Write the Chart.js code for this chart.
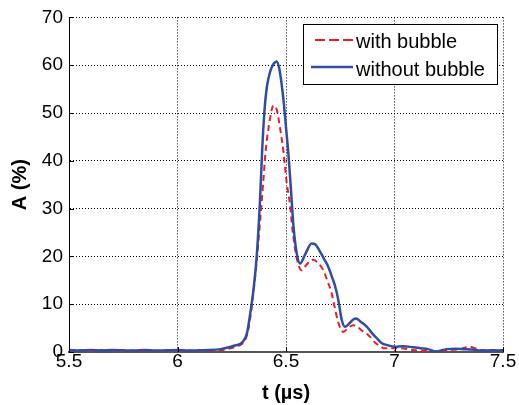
<!DOCTYPE html>
<html>
<head>
<meta charset="utf-8">
<script src="https://cdn.jsdelivr.net/npm/chart.js@4.4.0/dist/chart.umd.min.js"></script>
<style>
  html, body { margin: 0; padding: 0; background: #fff; }
  #wrap { width: 519px; height: 405px; }
</style>
</head>
<body>
<div id="wrap"><canvas id="pulseChart" width="519" height="405"></canvas></div>
<script>
// values, t in microseconds, A in %
var seriesLabels = ['with bubble', 'without bubble'];

var tWith = [5.5, 5.55, 5.6, 5.65, 5.7, 5.75, 5.8, 5.85, 5.9, 5.95, 6.0, 6.05, 6.1, 6.15, 6.2,
  6.23, 6.27, 6.3, 6.32, 6.335, 6.35, 6.365, 6.38, 6.395, 6.405, 6.42, 6.443, 6.458, 6.472,
  6.488, 6.503, 6.518, 6.53, 6.55, 6.572, 6.59, 6.61, 6.626, 6.65, 6.672, 6.69, 6.71, 6.734,
  6.75, 6.764, 6.785, 6.81, 6.83, 6.855, 6.88, 6.91, 6.935, 6.95, 6.98, 7.025, 7.085, 7.15,
  7.2, 7.25, 7.3, 7.348, 7.37, 7.4, 7.45, 7.5];
var aWith = [0.3, 0.4, 0.2, 0.4, 0.3, 0.1, 0.3, 0.2, 0.1, 0.3, 0.2, 0.3, 0.1, 0.3, 0.4,
  0.6, 1.1, 1.8, 3.5, 7, 12.5, 19, 27, 35.5, 41.5, 47, 51.6, 50.6, 47,
  42, 35.5, 31, 25.5, 19.5, 17.1, 18, 19, 19.3, 18.5, 17.1, 15, 12.3, 7.4,
  5, 4.2, 5.0, 5.6, 5.2, 4.3, 3.5, 2.0, 1.2, 0.8, 0.8, 0.8, 0.4, 0.2,
  0.1, 0.4, 0.6, 1.1, 0.8, 0.4, 0.3, 0.4];

var tWithout = [5.5, 5.55, 5.6, 5.65, 5.7, 5.75, 5.8, 5.85, 5.9, 5.95, 6.0, 6.05, 6.1, 6.15, 6.2,
  6.22, 6.26, 6.3, 6.32, 6.335, 6.35, 6.365, 6.38, 6.39, 6.4, 6.412, 6.428, 6.443, 6.457, 6.469,
  6.48, 6.49, 6.5, 6.511, 6.525, 6.535, 6.55, 6.565, 6.59, 6.618, 6.635, 6.657, 6.675, 6.695, 6.715,
  6.728, 6.741, 6.757, 6.772, 6.79, 6.81, 6.823, 6.845, 6.872, 6.895, 6.918, 6.94, 6.97, 7.0,
  7.04, 7.085, 7.12, 7.155, 7.19, 7.24, 7.28, 7.32, 7.36, 7.4, 7.45, 7.5];
var aWithout = [0.4, 0.3, 0.4, 0.3, 0.4, 0.35, 0.3, 0.4, 0.3, 0.35, 0.4, 0.3, 0.35, 0.4, 0.6,
  0.8, 1.3, 2.1, 3.9, 8.0, 13.0, 20.0, 31.5, 42, 50, 55.5, 58.8, 60.3, 60.8, 59.3,
  56, 52, 47, 41.5, 32.5, 26, 20.5, 18.5, 20.6, 22.7, 22.5, 21.0, 19.5, 17.8, 15.3,
  13.5, 10.9, 6.7, 5.3, 5.9, 6.8, 7.0, 6.3, 5.3, 4.0, 2.9, 1.9, 1.4, 1.1,
  1.2, 1.0, 0.8, 0.6, 0.1, 0.6, 0.7, 0.6, 0.5, 0.3, 0.35, 0.3];

var xTicks = [5.5, 6, 6.5, 7, 7.5];
var yTicks = [0, 10, 20, 30, 40, 50, 60, 70];

var redLine = '#ee1d25';
var blueLine = '#2f4ea2';

function pairs(xs, ys) {
  var out = [];
  for (var i = 0; i < xs.length; i++) {
    out.push({x: xs[i], y: ys[i]});
  }
  return out;
}

Chart.defaults.font.family = '"Liberation Sans", Arial, sans-serif';
Chart.defaults.color = '#000';

// matlab style: ticks pointing into the plot
var innerTicks = {
  id: 'innerTicks',
  afterDatasetsDraw: function(chart) {
    var ctx = chart.ctx;
    var area = chart.chartArea;
    var xs = chart.scales.x, ys = chart.scales.y;
    ctx.save();
    ctx.strokeStyle = '#000';
    ctx.lineWidth = 1;
    ctx.beginPath();
    xTicks.forEach(function(v) {
      var px = Math.round(xs.getPixelForValue(v)) + 0.5;
      ctx.moveTo(px, area.bottom);
      ctx.lineTo(px, area.bottom - 5);
    });
    yTicks.forEach(function(v) {
      var py = Math.round(ys.getPixelForValue(v)) + 0.5;
      ctx.moveTo(area.left, py);
      ctx.lineTo(area.left + 5, py);
    });
    ctx.stroke();
    ctx.restore();
  }
};

// legend box in the top right corner
var boxLegend = {
  id: 'boxLegend',
  afterDraw: function(chart) {
    var ctx = chart.ctx;
    var ds = chart.data.datasets;
    ctx.save();
    ctx.fillStyle = '#fff';
    ctx.fillRect(303.5, 24.5, 194, 60);
    ctx.strokeStyle = '#000';
    ctx.lineWidth = 1;
    ctx.strokeRect(303.5, 24.5, 194, 60);

    ctx.lineWidth = 2;
    ctx.strokeStyle = ds[0].borderColor;
    ctx.setLineDash([10, 4]);
    ctx.beginPath();
    ctx.moveTo(315, 40);
    ctx.lineTo(353, 40);
    ctx.stroke();

    ctx.setLineDash([]);
    ctx.lineWidth = 2.5;
    ctx.strokeStyle = ds[1].borderColor;
    ctx.beginPath();
    ctx.moveTo(311, 67);
    ctx.lineTo(353, 67);
    ctx.stroke();

    ctx.fillStyle = '#000';
    ctx.font = '20px "Liberation Sans", Arial, sans-serif';
    ctx.textBaseline = 'alphabetic';
    ctx.fillText(ds[0].label, 356, 48);
    ctx.fillText(ds[1].label, 356, 76);
    ctx.restore();
  }
};

var ctx = document.getElementById('pulseChart').getContext('2d');
window.pulseChart = new Chart(ctx, {
  type: 'line',
  data: {
    datasets: [{
      label: seriesLabels[0],
      data: pairs(tWith, aWith),
      borderColor: redLine,
      borderWidth: 2,
      borderDash: [6, 4],
      pointRadius: 0,
      fill: false,
      cubicInterpolationMode: 'monotone',
      order: 1
    }, {
      label: seriesLabels[1],
      data: pairs(tWithout, aWithout),
      borderColor: blueLine,
      borderWidth: 2.5,
      pointRadius: 0,
      fill: false,
      cubicInterpolationMode: 'monotone',
      order: 0
    }]
  },
  options: {
    responsive: false,
    animation: false,
    devicePixelRatio: 1,
    layout: { padding: { left: 0, right: 16, top: 17, bottom: 0 } },
    plugins: {
      legend: { display: false },
      tooltip: { enabled: false }
    },
    scales: {
      x: {
        type: 'linear',
        min: 5.5,
        max: 7.5,
        afterBuildTicks: function(scale) {
          scale.ticks = xTicks.map(function(v) { return {value: v}; });
        },
        afterFit: function(scale) { scale.height = 53; },
        ticks: {
          font: { size: 19 },
          padding: -2,
          maxRotation: 0,
          callback: function(v) { return String(v); }
        },
        grid: { color: '#000', lineWidth: 1, drawTicks: false },
        border: { color: '#555', width: 2, dash: [1, 2] },
        title: {
          display: true,
          text: 't (µs)',
          font: { size: 20, weight: 'bold' },
          padding: { top: 0, bottom: 0 }
        }
      },
      y: {
        min: 0,
        max: 70,
        afterBuildTicks: function(scale) {
          scale.ticks = yTicks.map(function(v) { return {value: v}; });
        },
        afterFit: function(scale) { scale.width = 69; },
        ticks: {
          font: { size: 19 },
          padding: 6,
          callback: function(v) { return String(v); }
        },
        grid: { color: '#000', lineWidth: 1, drawTicks: false },
        border: { color: '#000', width: 1, dash: [1, 2] },
        title: {
          display: true,
          text: 'A (%)',
          font: { size: 20, weight: 'bold' },
          padding: { top: 8, bottom: 0 }
        }
      }
    }
  },
  plugins: [innerTicks, boxLegend]
});
</script>
</body>
</html>
